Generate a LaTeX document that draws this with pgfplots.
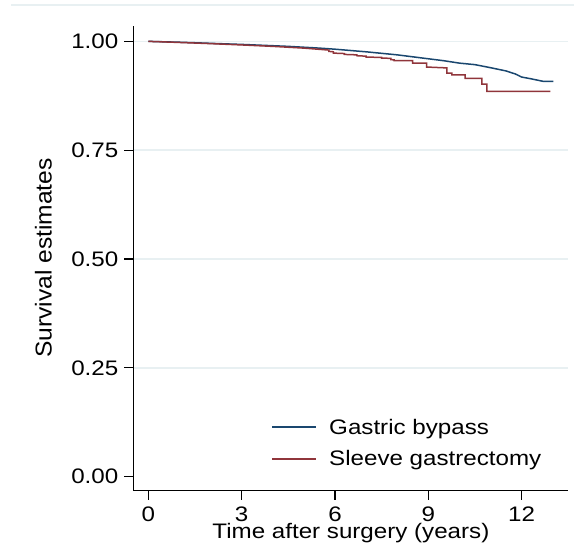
\documentclass[border=0pt]{standalone}
\usepackage{fontspec}
\setmainfont{Liberation Sans}[FakeStretch=1.15]
\newfontfamily\ylabfamily{Liberation Sans}[FakeStretch=1.07]
\usepackage{pgfplots}
\pgfplotsset{compat=1.18}
\definecolor{sgnavy}{RGB}{26,71,111}
\definecolor{sgmaroon}{RGB}{144,53,59}
\definecolor{sggrid}{RGB}{232,240,242}
\newcommand{\chartfont}{\fontsize{21bp}{25bp}\selectfont}
\newcommand{\ylabfont}{\ylabfamily\fontsize{23bp}{27bp}\selectfont}

\pgfplotstableread{
t S
0 1.000
0.5 0.9990
1 0.9980
1.5 0.9968
2 0.9955
2.5 0.9942
3 0.9930
3.5 0.9915
4 0.9900
4.5 0.9885
5 0.9865
5.5 0.9845
6 0.9820
6.5 0.9790
7 0.9760
7.5 0.9725
8 0.9690
8.5 0.9645
9 0.9600
9.5 0.9555
10 0.9500
10.5 0.9465
11 0.9395
11.5 0.9320
11.8 0.9250
12.0 0.9180
12.3 0.9140
12.7 0.9080
13.02 0.9080
}\bypass

\pgfplotstableread{
t S
0 1.000
1 0.9975
2 0.9948
3 0.9918
4 0.9885
5 0.9845
5.8 0.9800
5.8 0.9770
5.95 0.9760
5.95 0.9730
6.3 0.9720
6.3 0.9700
6.7 0.9690
6.7 0.9670
7.0 0.9660
7.0 0.9640
7.5 0.9630
7.5 0.9615
7.8 0.9610
7.8 0.9580
7.9 0.9575
7.9 0.9560
8.5 0.9560
8.5 0.9500
8.95 0.9500
8.95 0.9410
9.6 0.9390
9.6 0.9270
9.76 0.9270
9.76 0.9230
10.18 0.9230
10.18 0.9150
10.72 0.9150
10.72 0.9016
10.88 0.9016
10.88 0.8850
12.92 0.8850
}\sleeve

\begin{document}
\begin{tikzpicture}
\begin{axis}[
  scale only axis, width=434.8bp, height=464.8bp,
  xmin=-0.476, xmax=13.5, ymin=-0.032, ymax=1.036,
  axis x line*=bottom, axis y line*=left,
  axis line style={line width=1.3bp, black, -},
  xtick={0,3,6,9,12},
  xticklabels={0,3,6,9,12},
  ytick={0.25,0.5,0.75,1},
  yticklabels={0.25,0.50,0.75,1.00},
  extra y ticks={0},
  extra y tick labels={0.00},
  extra y tick style={grid=none},
  tick align=outside, major tick length=9bp,
  tick style={line width=1.3bp, black},
  ymajorgrids, grid style={sggrid, line width=1.5bp},
  tick label style={font=\chartfont, inner sep=0pt},
  yticklabel style={anchor=east, xshift=-6bp},
  xticklabel style={anchor=base, yshift=-21.5bp},
  xlabel={Time after surgery (years)},
  ylabel={Survival estimates},
  xlabel style={font=\chartfont, at={(axis description cs:0.5,-0.104)}, anchor=base, inner sep=0pt},
  ylabel style={font=\ylabfont, at={(axis description cs:-0.1881,0.5)}, anchor=base, inner sep=0pt},
  legend style={draw=none, fill=none, font=\chartfont, at={(axis description cs:0.317,0.1545)}, anchor=north west, inner sep=0pt, row sep=15bp, nodes={inner sep=0pt},
    /tikz/every odd column/.append style={column sep=12.8bp}},
  legend cell align=left,
  legend image code/.code={\draw[#1] (0bp,0bp) -- (43.4bp,0bp);},
]
\addplot[sgnavy, line width=1.5bp] table[x=t, y=S] {\bypass};
\addlegendentry{Gastric bypass}
\addplot[sgmaroon, line width=1.5bp] table[x=t, y=S] {\sleeve};
\addlegendentry{Sleeve gastrectomy}
\end{axis}
\draw[sggrid, line width=1.2bp] ([xshift=-122.5bp, yshift=20.7bp]current axis.north west) -- ([xshift=5.7bp, yshift=20.7bp]current axis.north east);
\pgfresetboundingbox
\useasboundingbox ([xshift=-133.5bp, yshift=25.7bp]current axis.north west) rectangle ([xshift=5.7bp, yshift=-63.5bp]current axis.south east);
\end{tikzpicture}
\end{document}
